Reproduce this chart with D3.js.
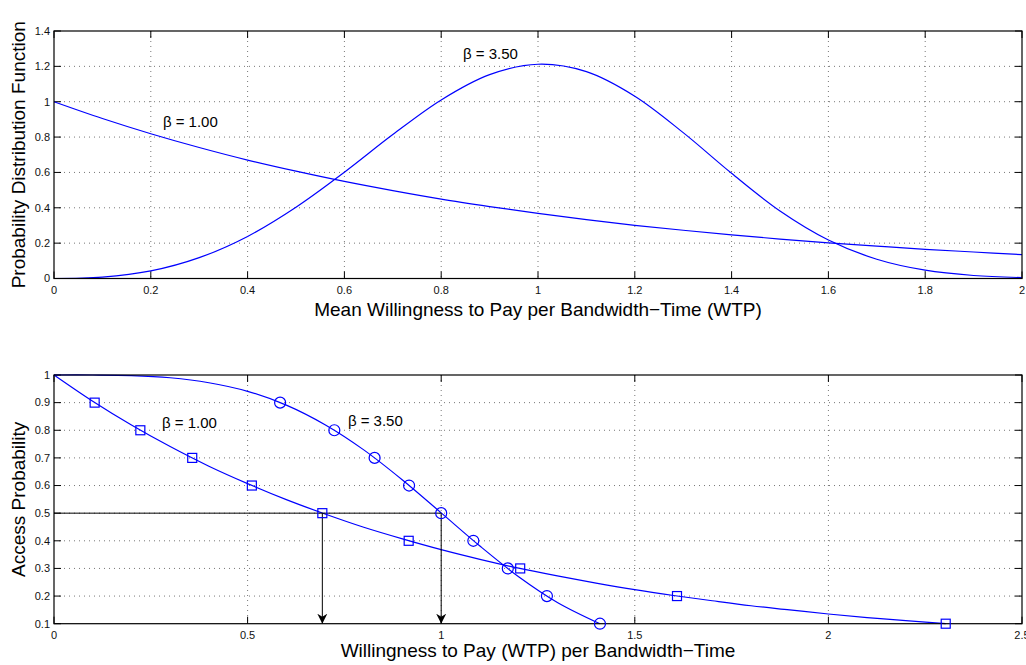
<!DOCTYPE html>
<html lang="en">
<head>
<meta charset="UTF-8">
<title>WTP distributions</title>
<script src="https://d3js.org/d3.v7.min.js"></script>
<style>
  body { margin: 0; background: #fff; }
  svg { display: block; font-family: "Liberation Sans", Arial, sans-serif; }
  .tick-label { font-size: 11px; fill: #111; }
  .axis-title { font-size: 19px; fill: #000; }
  .grid line { stroke: #777; stroke-width: 1; stroke-dasharray: 1,4; }
  .note { font-size: 15px; fill: #000; }
</style>
</head>
<body>
<div id="chart"></div>
<script>
// ---- data ----
// top panel: probability density, sampled every 0.1
var pdfX = [0, 0.1, 0.2, 0.3, 0.4, 0.5, 0.6, 0.7, 0.8, 0.9, 1.0, 1.1, 1.2, 1.3, 1.4, 1.5, 1.6, 1.7, 1.8, 1.9, 2.0];
var pdfBeta1 = [1, 0.905, 0.819, 0.741, 0.670, 0.607, 0.549, 0.497, 0.449, 0.407, 0.368, 0.333, 0.301, 0.273, 0.247, 0.223, 0.202, 0.183, 0.165, 0.150, 0.135];
var pdfBeta35 = [0, 0.008, 0.043, 0.118, 0.238, 0.403, 0.601, 0.814, 1.010, 1.153, 1.212, 1.170, 1.031, 0.825, 0.595, 0.382, 0.218, 0.109, 0.047, 0.017, 0.005];

// bottom panel: access probability curves
var accX1 = [0, 0.1, 0.2, 0.3, 0.4, 0.5, 0.6, 0.7, 0.8, 0.9, 1.0, 1.1, 1.2, 1.3, 1.4, 1.5, 1.6, 1.7, 1.8, 1.9, 2.0, 2.1, 2.2, 2.303];
var accBeta1 = [1, 0.905, 0.819, 0.741, 0.670, 0.607, 0.549, 0.497, 0.449, 0.407, 0.368, 0.333, 0.301, 0.273, 0.247, 0.223, 0.202, 0.183, 0.165, 0.150, 0.135, 0.122, 0.111, 0.1];
var accX35 = [0, 0.1, 0.2, 0.3, 0.4, 0.5, 0.6, 0.7, 0.8, 0.9, 1.0, 1.1, 1.2, 1.3, 1.41];
var accBeta35 = [1, 1.0, 0.998, 0.990, 0.972, 0.941, 0.891, 0.820, 0.729, 0.620, 0.501, 0.381, 0.270, 0.177, 0.1];

// markers at probability levels
var markLevels = [0.9, 0.8, 0.7, 0.6, 0.5, 0.4, 0.3, 0.2, 0.1];
var squareX = [0.105, 0.223, 0.357, 0.511, 0.693, 0.916, 1.204, 1.609, 2.303];
var circleX = [0.584, 0.724, 0.828, 0.917, 1.0, 1.083, 1.172, 1.273, 1.41];

// median guide lines
var medianLevel = 0.5;
var arrowX = [0.693, 1.0];

// ticks
var topXTicks = [0, 0.2, 0.4, 0.6, 0.8, 1, 1.2, 1.4, 1.6, 1.8, 2];
var topYTicks = [0, 0.2, 0.4, 0.6, 0.8, 1, 1.2, 1.4];
var botXTicks = [0, 0.5, 1, 1.5, 2, 2.5];
var botYTicks = [0.1, 0.2, 0.3, 0.4, 0.5, 0.6, 0.7, 0.8, 0.9, 1];

var W = 1026, H = 665;
var left = 54, right = 1022;
var blue = "#0000ff";

var svg = d3.select("#chart").append("svg")
    .attr("width", W)
    .attr("height", H);

svg.append("defs").append("marker")
    .attr("id", "arrowhead")
    .attr("viewBox", "0 0 10 12")
    .attr("refX", 10)
    .attr("refY", 6)
    .attr("markerWidth", 10)
    .attr("markerHeight", 12)
    .attr("markerUnits", "userSpaceOnUse")
    .attr("orient", "auto")
    .append("path")
    .attr("d", "M0,1 L10,6 L0,11 L3,6 Z")
    .attr("fill", "#000");

// draws grid, ticks and labels; returns scales
function panel(top, bottom, xDomain, yDomain, xTicks, yTicks, xTitle, yTitle, titleGap) {
    var x = d3.scaleLinear().domain(xDomain).range([left, right]);
    var y = d3.scaleLinear().domain(yDomain).range([bottom, top]);
    var g = svg.append("g");

    var grid = g.append("g").attr("class", "grid");
    grid.selectAll(".gx").data(xTicks.slice(1, -1)).enter().append("line")
        .attr("x1", function (d) { return x(d); }).attr("x2", function (d) { return x(d); })
        .attr("y1", top).attr("y2", bottom);
    grid.selectAll(".gy").data(yTicks.slice(1, -1)).enter().append("line")
        .attr("y1", function (d) { return y(d); }).attr("y2", function (d) { return y(d); })
        .attr("x1", left).attr("x2", right);

    // inward ticks on all four sides
    var tl = 7;
    var ticks = g.append("g").attr("stroke", "#000").attr("stroke-width", 1);
    xTicks.forEach(function (d) {
        ticks.append("line").attr("x1", x(d)).attr("x2", x(d)).attr("y1", bottom).attr("y2", bottom - tl);
        ticks.append("line").attr("x1", x(d)).attr("x2", x(d)).attr("y1", top).attr("y2", top + tl);
    });
    yTicks.forEach(function (d) {
        ticks.append("line").attr("y1", y(d)).attr("y2", y(d)).attr("x1", left).attr("x2", left + tl);
        ticks.append("line").attr("y1", y(d)).attr("y2", y(d)).attr("x1", right).attr("x2", right - tl);
    });

    g.selectAll(".xl").data(xTicks).enter().append("text")
        .attr("class", "tick-label")
        .attr("x", function (d) { return x(d); })
        .attr("y", bottom + 15)
        .attr("text-anchor", "middle")
        .text(fmt);
    g.selectAll(".yl").data(yTicks).enter().append("text")
        .attr("class", "tick-label")
        .attr("x", left - 4)
        .attr("y", function (d) { return y(d); })
        .attr("dy", "0.35em")
        .attr("text-anchor", "end")
        .text(fmt);

    g.append("text").attr("class", "axis-title")
        .attr("x", (left + right) / 2)
        .attr("y", bottom + titleGap)
        .attr("text-anchor", "middle")
        .text(xTitle);
    g.append("text").attr("class", "axis-title")
        .attr("transform", "translate(25," + ((top + bottom) / 2) + ") rotate(-90)")
        .attr("text-anchor", "middle")
        .text(yTitle);

    return { x: x, y: y, g: g, top: top, bottom: bottom };
}

function fmt(d) { return String(+d.toFixed(2)); }

function frame(p) {
    p.g.append("rect")
        .attr("x", left).attr("y", p.top)
        .attr("width", right - left).attr("height", p.bottom - p.top)
        .attr("fill", "none").attr("stroke", "#000").attr("stroke-width", 1.2);
}

// ---- top panel ----
var p1 = panel(31, 278.5, [0, 2], [0, 1.4], topXTicks, topYTicks,
    "Mean Willingness to Pay per Bandwidth\u2212Time (WTP)", "Probability Distribution Function", 37);

var line1 = d3.line()
    .x(function (d) { return p1.x(d[0]); })
    .y(function (d) { return p1.y(d[1]); })
    .curve(d3.curveCatmullRom);

[pdfBeta1, pdfBeta35].forEach(function (s) {
    p1.g.append("path")
        .attr("d", line1(pdfX.map(function (v, i) { return [v, s[i]]; })))
        .attr("fill", "none").attr("stroke", blue).attr("stroke-width", 1.2);
});
frame(p1);

p1.g.append("text").attr("class", "note").attr("x", p1.x(0.845)).attr("y", p1.y(1.27)).attr("dy", "0.35em").text("\u03b2 = 3.50");
p1.g.append("text").attr("class", "note").attr("x", p1.x(0.225)).attr("y", p1.y(0.885)).attr("dy", "0.35em").text("\u03b2 = 1.00");

// ---- bottom panel ----
var p2 = panel(375, 623.7, [0, 2.5], [0.1, 1], botXTicks, botYTicks,
    "Willingness to Pay (WTP) per Bandwidth\u2212Time", "Access Probability", 33);

var line2 = d3.line()
    .x(function (d) { return p2.x(d[0]); })
    .y(function (d) { return p2.y(d[1]); })
    .curve(d3.curveCatmullRom);

p2.g.append("path")
    .attr("d", line2(accX1.map(function (v, i) { return [v, accBeta1[i]]; })))
    .attr("fill", "none").attr("stroke", blue).attr("stroke-width", 1.2);
p2.g.append("path")
    .attr("d", line2(accX35.map(function (v, i) { return [v, accBeta35[i]]; })))
    .attr("fill", "none").attr("stroke", blue).attr("stroke-width", 1.2);

// median guide: horizontal line and arrows
p2.g.append("line")
    .attr("x1", p2.x(0)).attr("x2", p2.x(d3.max(arrowX)))
    .attr("y1", p2.y(medianLevel)).attr("y2", p2.y(medianLevel))
    .attr("stroke", "#000").attr("stroke-width", 1);
p2.g.selectAll(".arrow").data(arrowX).enter().append("line")
    .attr("x1", function (d) { return p2.x(d); }).attr("x2", function (d) { return p2.x(d); })
    .attr("y1", p2.y(medianLevel)).attr("y2", p2.y(0.1))
    .attr("stroke", "#000").attr("stroke-width", 1)
    .attr("marker-end", "url(#arrowhead)");

frame(p2);

p2.g.selectAll(".sq").data(squareX).enter().append("rect")
    .attr("x", function (d) { return p2.x(d) - 4.5; })
    .attr("y", function (d, i) { return p2.y(markLevels[i]) - 4.5; })
    .attr("width", 9).attr("height", 9)
    .attr("fill", "none").attr("stroke", blue).attr("stroke-width", 1.2);
p2.g.selectAll(".ci").data(circleX).enter().append("circle")
    .attr("cx", function (d) { return p2.x(d); })
    .attr("cy", function (d, i) { return p2.y(markLevels[i]); })
    .attr("r", 5.5)
    .attr("fill", "none").attr("stroke", blue).attr("stroke-width", 1.2);

p2.g.append("text").attr("class", "note").attr("x", p2.x(0.279)).attr("y", p2.y(0.826)).attr("dy", "0.35em").text("\u03b2 = 1.00");
p2.g.append("text").attr("class", "note").attr("x", p2.x(0.759)).attr("y", p2.y(0.833)).attr("dy", "0.35em").text("\u03b2 = 3.50");
</script>
</body>
</html>
